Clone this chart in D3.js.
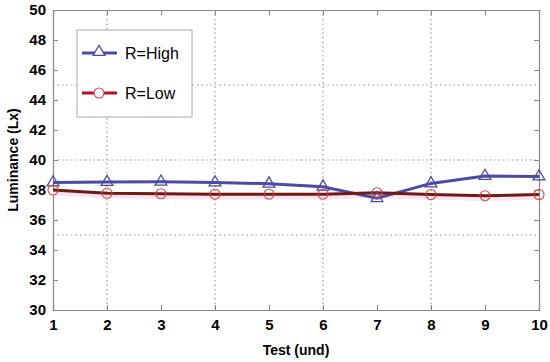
<!DOCTYPE html>
<html>
<head>
<meta charset="utf-8">
<script src="https://cdn.jsdelivr.net/npm/d3@7"></script>
<style>
  body { margin: 0; background: #fff; }
  text { font-family: Arial, "Liberation Sans", sans-serif; }
</style>
</head>
<body>
<div id="chart"></div>
<script>
var svgWidth = 550;
var svgHeight = 362;

var margin = { top: 10, right: 11, bottom: 52, left: 53 };
var width = svgWidth - margin.left - margin.right;
var height = svgHeight - margin.top - margin.bottom;

// data
var tests = [1, 2, 3, 4, 5, 6, 7, 8, 9, 10];
var highValues = [38.5, 38.53, 38.55, 38.5, 38.42, 38.22, 37.45, 38.44, 38.93, 38.9];
var lowValues = [38.0, 37.78, 37.75, 37.72, 37.72, 37.72, 37.82, 37.7, 37.62, 37.7];
var yTicks = [30, 32, 34, 36, 38, 40, 42, 44, 46, 48, 50];
var yGrid = [35, 40, 45];
var xGrid = [2, 4, 6, 8];

var svg = d3.select("#chart")
  .append("svg")
  .attr("width", svgWidth)
  .attr("height", svgHeight);

var chartGroup = svg.append("g")
  .attr("transform", `translate(${margin.left}, ${margin.top})`);

var x = d3.scaleLinear().domain([1, 10]).range([0, width]);
var y = d3.scaleLinear().domain([30, 50]).range([height, 0]);

// dotted grid
chartGroup.selectAll(".hgrid")
  .data(yGrid)
  .enter()
  .append("line")
  .attr("x1", 0)
  .attr("x2", width)
  .attr("y1", d => y(d))
  .attr("y2", d => y(d))
  .attr("stroke", "#999")
  .attr("stroke-width", 1.2)
  .attr("stroke-dasharray", "1.5,3");

chartGroup.selectAll(".vgrid")
  .data(xGrid)
  .enter()
  .append("line")
  .attr("x1", d => x(d))
  .attr("x2", d => x(d))
  .attr("y1", 0)
  .attr("y2", height)
  .attr("stroke", "#999")
  .attr("stroke-width", 1.2)
  .attr("stroke-dasharray", "1.5,3");

// axes with inward ticks
var bottomAxis = d3.axisBottom(x).tickValues(tests).tickSize(-5).tickPadding(9).tickFormat(d3.format("d"));
var leftAxis = d3.axisLeft(y).tickValues(yTicks).tickSize(-5).tickPadding(7);
var topAxis = d3.axisTop(x).tickValues(tests).tickSize(-5).tickFormat("");
var rightAxis = d3.axisRight(y).tickValues(yTicks).tickSize(-5).tickFormat("");

function styleAxis(g) {
  g.select(".domain").attr("stroke", "#888").attr("stroke-width", 1.2);
  g.selectAll(".tick line").attr("stroke", "#888");
  g.selectAll(".tick text")
    .attr("fill", "#000")
    .style("font-size", "15px")
    .style("font-weight", "bold");
}

chartGroup.append("g").attr("transform", `translate(0, ${height})`).call(bottomAxis).call(styleAxis);
chartGroup.append("g").call(leftAxis).call(styleAxis);
chartGroup.append("g").call(topAxis).call(styleAxis);
chartGroup.append("g").attr("transform", `translate(${width}, 0)`).call(rightAxis).call(styleAxis);

// pink band around the low series
var band = d3.area()
  .x((d, i) => x(tests[i]))
  .y0(d => y(d - 0.35))
  .y1(d => y(d + 0.05));

chartGroup.append("path")
  .datum(lowValues)
  .attr("d", band)
  .attr("fill", "#fbe3f3");

var line = d3.line()
  .x((d, i) => x(tests[i]))
  .y(d => y(d));

chartGroup.append("path")
  .datum(highValues)
  .attr("d", line)
  .attr("fill", "none")
  .attr("stroke", "#4b4ba6")
  .attr("stroke-width", 3);

chartGroup.append("path")
  .datum(lowValues)
  .attr("d", line)
  .attr("fill", "none")
  .attr("stroke", "#6e1c12")
  .attr("stroke-width", 3);

var triangle = d3.symbol().type(d3.symbolTriangle).size(60);

chartGroup.selectAll(".tri")
  .data(highValues)
  .enter()
  .append("path")
  .attr("d", triangle)
  .attr("transform", (d, i) => `translate(${x(tests[i])}, ${y(d)})`)
  .attr("fill", "none")
  .attr("stroke", "#4b4ba6")
  .attr("stroke-width", 1.3);

chartGroup.selectAll(".circ")
  .data(lowValues)
  .enter()
  .append("circle")
  .attr("cx", (d, i) => x(tests[i]))
  .attr("cy", d => y(d))
  .attr("r", 5)
  .attr("fill", "none")
  .attr("stroke", "#e0403c")
  .attr("stroke-width", 1.1);

// legend
var legend = svg.append("g").attr("transform", "translate(77, 30)");
legend.append("rect")
  .attr("width", 115)
  .attr("height", 87)
  .attr("fill", "#fff")
  .attr("stroke", "#aaa");

legend.append("line")
  .attr("x1", 5).attr("x2", 40).attr("y1", 23).attr("y2", 23)
  .attr("stroke", "#4b4ba6").attr("stroke-width", 3);
legend.append("path")
  .attr("d", triangle)
  .attr("transform", "translate(22, 22)")
  .attr("fill", "#fff")
  .attr("stroke", "#4b4ba6")
  .attr("stroke-width", 1.3);
legend.append("text")
  .attr("x", 48).attr("y", 29)
  .style("font-size", "16px")
  .text("R=High");

legend.append("line")
  .attr("x1", 5).attr("x2", 40).attr("y1", 63).attr("y2", 63)
  .attr("stroke", "#b0102a").attr("stroke-width", 3);
legend.append("circle")
  .attr("cx", 22).attr("cy", 63).attr("r", 5)
  .attr("fill", "#fff")
  .attr("stroke", "#e0403c")
  .attr("stroke-width", 1.1);
legend.append("text")
  .attr("x", 48).attr("y", 69)
  .style("font-size", "16px")
  .text("R=Low");

// axis titles
svg.append("text")
  .attr("x", margin.left + width / 2)
  .attr("y", 355)
  .attr("text-anchor", "middle")
  .style("font-size", "14px")
  .style("font-weight", "bold")
  .text("Test (und)");

svg.append("text")
  .attr("transform", "rotate(-90)")
  .attr("x", -(margin.top + height / 2))
  .attr("y", 18)
  .attr("text-anchor", "middle")
  .style("font-size", "14px")
  .style("font-weight", "bold")
  .text("Luminance (Lx)");
</script>
</body>
</html>
